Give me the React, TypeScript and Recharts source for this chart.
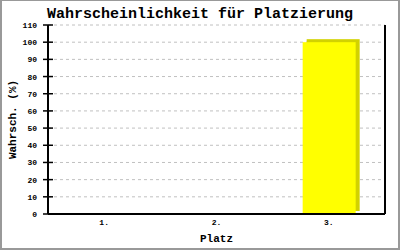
import { Bar, BarChart, CartesianGrid, XAxis, YAxis } from 'recharts';

const places = ['1.', '2.', '3.'];
const probabilities = [0, 0, 100];
const yTicks = [0, 10, 20, 30, 40, 50, 60, 70, 80, 90, 100, 110];

const chartData = places.map((p, i) => ({ place: p, value: probabilities[i] }));

const FONT = '"Liberation Mono", "DejaVu Sans Mono", monospace';

// bar with a darker offset shadow for the pseudo 3d look
function ShadowBar(props: any) {
  const { x, y, width, height } = props;
  if (!height || height <= 0) return null;
  return (
    <g>
      <rect x={x + 4} y={y - 3} width={width} height={height} fill="#d2d200" />
      <rect x={x} y={y} width={width} height={height} fill="#ffff00" />
    </g>
  );
}

// y tick: label plus a tick line that crosses the axis
function YTick(props: any) {
  const { x, y, payload } = props;
  const axisX = x + 11;
  return (
    <g>
      <line x1={axisX - 5} x2={axisX + 5} y1={y} y2={y} stroke="#000" strokeWidth={1.5} />
      <text x={x} y={y} dy={3} textAnchor="end" fontFamily={FONT} fontWeight="bold" fontSize={8} fill="#000">
        {payload.value}
      </text>
    </g>
  );
}

function XTick(props: any) {
  const { x, y, payload } = props;
  return (
    <text x={x} y={y} dy={6} textAnchor="middle" fontFamily={FONT} fontWeight="bold" fontSize={8} fill="#000">
      {payload.value}
    </text>
  );
}

function YLabel(props: any) {
  const { viewBox } = props;
  const cx = viewBox.x + 12;
  const cy = viewBox.y + viewBox.height / 2;
  return (
    <text
      x={cx}
      y={cy}
      dy={4}
      textAnchor="middle"
      transform={`rotate(-90, ${cx}, ${cy})`}
      fontFamily={FONT}
      fontWeight="bold"
      fontSize={11}
      fill="#000"
    >
      Wahrsch. (%)
    </text>
  );
}

export default function App() {
  return (
    <div style={{ position: 'absolute', left: 0, top: 0, width: 400, height: 250, background: '#fff' }}>
      <div
        style={{
          position: 'absolute',
          left: 0,
          top: 7,
          width: 400,
          textAlign: 'center',
          fontFamily: FONT,
          fontWeight: 'bold',
          fontSize: 15,
          lineHeight: '15px',
          color: '#000',
        }}
      >
        Wahrscheinlichkeit für Platzierung
      </div>
      <BarChart
        width={400}
        height={250}
        data={chartData}
        margin={{ top: 25, right: 14, bottom: 0, left: 0 }}
        barSize={53}
      >
        <CartesianGrid horizontal vertical={false} stroke="#c0c0c0" strokeDasharray="3 3" />
        <XAxis
          dataKey="place"
          height={36}
          tickLine={false}
          tickSize={3}
          tickMargin={2}
          tick={<XTick />}
          axisLine={{ stroke: '#000', strokeWidth: 2 }}
          label={{ value: 'Platz', position: 'insideBottom', offset: 8, fontFamily: FONT, fontWeight: 'bold', fontSize: 11, fill: '#000' }}
        />
        <YAxis
          domain={[0, 110]}
          ticks={yTicks}
          interval={0}
          width={48}
          tickSize={5}
          tickMargin={6}
          tickLine={false}
          tick={<YTick />}
          axisLine={{ stroke: '#000', strokeWidth: 2 }}
          label={<YLabel />}
        />
        <YAxis
          yAxisId="right"
          orientation="right"
          width={1}
          tick={false}
          tickLine={false}
          axisLine={{ stroke: '#000', strokeWidth: 2 }}
        />
        <Bar dataKey="value" shape={<ShadowBar />} isAnimationActive={false} />
      </BarChart>
      <div
        style={{
          position: 'absolute',
          left: 0,
          top: 0,
          width: 400,
          height: 250,
          boxSizing: 'border-box',
          borderStyle: 'solid',
          borderColor: '#999',
          borderWidth: '1px 2px 2px 2px',
          pointerEvents: 'none',
        }}
      />
    </div>
  );
}
